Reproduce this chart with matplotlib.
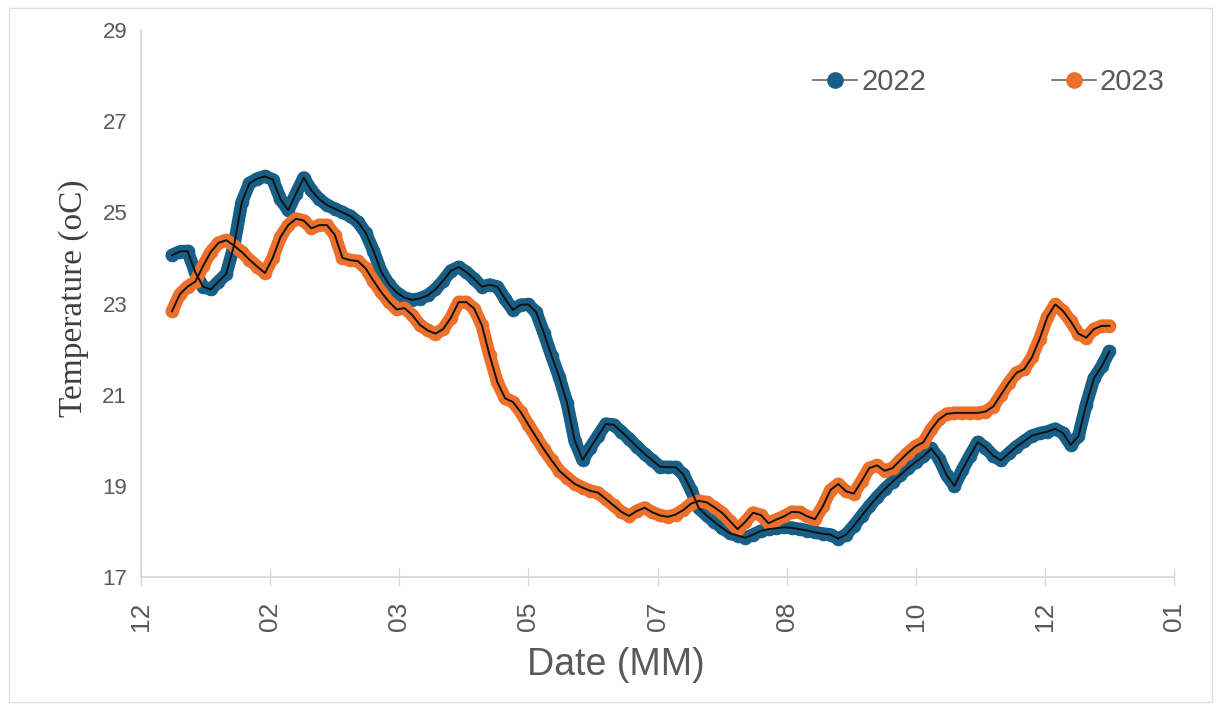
import numpy as np
import matplotlib
matplotlib.use("Agg")
import matplotlib.pyplot as plt
import matplotlib.dates as mdates
from matplotlib.patches import Rectangle
from matplotlib.lines import Line2D

# Sampling grid: every third day of the year, both years on a common calendar
sample_days = np.arange(0, 364, 3)
dates = np.datetime64("2022-01-01") + sample_days.astype("timedelta64[D]")

series_names = ["2022", "2023"]

temp_2022 = [
    24.06, 24.14, 24.15, 23.69, 23.37, 23.31, 23.48, 23.65, 24.27, 25.22,
    25.64, 25.74, 25.79, 25.72, 25.29, 25.05, 25.41, 25.76, 25.48, 25.29,
    25.16, 25.08, 25.00, 24.92, 24.79, 24.55, 24.16, 23.70, 23.42, 23.24,
    23.13, 23.08, 23.11, 23.18, 23.31, 23.50, 23.72, 23.80, 23.69, 23.54,
    23.37, 23.41, 23.37, 23.10, 22.86, 22.97, 22.98, 22.81, 22.35, 21.85,
    21.38, 20.81, 19.98, 19.57, 19.84, 20.10, 20.36, 20.34, 20.19, 20.03,
    19.86, 19.70, 19.56, 19.42, 19.41, 19.41, 19.25, 18.91, 18.51, 18.35,
    18.21, 18.08, 17.96, 17.91, 17.86, 17.93, 18.01, 18.05, 18.07, 18.09,
    18.08, 18.05, 18.02, 17.98, 17.95, 17.93, 17.84, 17.93, 18.12, 18.34,
    18.55, 18.75, 18.93, 19.09, 19.24, 19.39, 19.53, 19.65, 19.82, 19.60,
    19.23, 19.00, 19.35, 19.66, 19.96, 19.84, 19.66, 19.56, 19.71, 19.86,
    19.98, 20.10, 20.15, 20.19, 20.25, 20.16, 19.90, 20.09, 20.78, 21.36,
    21.62, 21.95,
]

temp_2023 = [
    22.83, 23.20, 23.37, 23.48, 23.82, 24.13, 24.33, 24.39, 24.27, 24.13,
    23.96, 23.81, 23.67, 24.00, 24.46, 24.72, 24.86, 24.82, 24.65, 24.72,
    24.72, 24.51, 24.00, 23.95, 23.93, 23.77, 23.50, 23.25, 23.04, 22.87,
    22.90, 22.75, 22.53, 22.41, 22.34, 22.44, 22.69, 23.03, 23.03, 22.89,
    22.52, 21.86, 21.27, 20.92, 20.84, 20.62, 20.34, 20.07, 19.80, 19.56,
    19.33, 19.18, 19.04, 18.96, 18.89, 18.85, 18.71, 18.57, 18.43, 18.34,
    18.45, 18.52, 18.42, 18.35, 18.32, 18.37, 18.47, 18.61, 18.67, 18.64,
    18.53, 18.41, 18.23, 18.05, 18.21, 18.41, 18.36, 18.18, 18.26, 18.33,
    18.43, 18.42, 18.33, 18.27, 18.55, 18.91, 19.04, 18.88, 18.83, 19.10,
    19.39, 19.45, 19.33, 19.39, 19.56, 19.73, 19.87, 19.96, 20.24, 20.46,
    20.58, 20.60, 20.60, 20.60, 20.60, 20.63, 20.74, 21.00, 21.26, 21.48,
    21.56, 21.82, 22.23, 22.71, 22.98, 22.84, 22.61, 22.34, 22.25, 22.44,
    22.51, 22.51,
]

series_colors = ["#175f86", "#ec6f2a"]
y_ticks = [17, 19, 21, 23, 25, 27, 29]

# Date axis: 400-day window with a tick every 50 days
axis_start = np.datetime64("2021-12-20")
x_ticks = axis_start + np.arange(0, 401, 50).astype("timedelta64[D]")

plt.rcParams["font.family"] = ["Liberation Sans", "DejaVu Sans"]
grey = "#595959"
axis_grey = "#d9d9d9"
dot_size = 9.3

fig = plt.figure(figsize=(12.21, 7.10), dpi=100)
fig.patches.append(Rectangle((0.007, 0.011), 0.986, 0.978, transform=fig.transFigure,
                             fill=False, edgecolor="#e0e0e0", linewidth=1.0))
ax = fig.add_axes([0.1155, 0.1873, 0.846, 0.7704])

handles = []
for name, values, color in zip(series_names, [temp_2022, temp_2023], series_colors):
    # dense run of round markers forms a soft coloured band under the trace
    ax.plot(dates, values, color=color, linewidth=dot_size, solid_capstyle="round",
            solid_joinstyle="round", zorder=2)
    ax.plot(dates, values, linestyle="none", marker="o", markersize=dot_size,
            markerfacecolor=color, markeredgecolor=color, markeredgewidth=0.5,
            zorder=2)
    ax.plot(dates, values, color="#111111", linewidth=1.4, zorder=3)
    handles.append(Line2D([], [], color="#6a6a6a", linewidth=1.2, marker="o",
                          markersize=11, markerfacecolor=color,
                          markeredgecolor=color))

ax.set_xlim(x_ticks[0], x_ticks[-1])
ax.set_ylim(17, 29)
ax.set_xticks(x_ticks)
ax.xaxis.set_major_formatter(mdates.DateFormatter("%m"))
ax.set_yticks(y_ticks)

for side in ("top", "right"):
    ax.spines[side].set_visible(False)
for side in ("left", "bottom"):
    ax.spines[side].set_color(axis_grey)
    ax.spines[side].set_linewidth(1.3)

ax.tick_params(axis="x", direction="inout", length=13, width=1.0, color=axis_grey,
               labelcolor=grey, labelsize=19, labelrotation=90, pad=11)
ax.tick_params(axis="y", length=0, labelcolor=grey, labelsize=16, pad=10)

ax.set_xlabel("Date (MM)", fontsize=27, color=grey)
ax.xaxis.set_label_coords(0.46, -0.128)
ax.set_ylabel("Temperature (oC)", fontsize=24, color="#404040",
              family=["Liberation Serif", "DejaVu Serif"])
ax.yaxis.set_label_coords(-0.05, 0.51)

leg = ax.legend(handles, series_names, loc="center", bbox_to_anchor=(0.821, 0.905),
                ncol=2, frameon=False, numpoints=1, fontsize=21, handlelength=1.5,
                handletextpad=0.15, columnspacing=4.3, labelcolor=grey)

fig.savefig("out.png", dpi=100, facecolor="white")
